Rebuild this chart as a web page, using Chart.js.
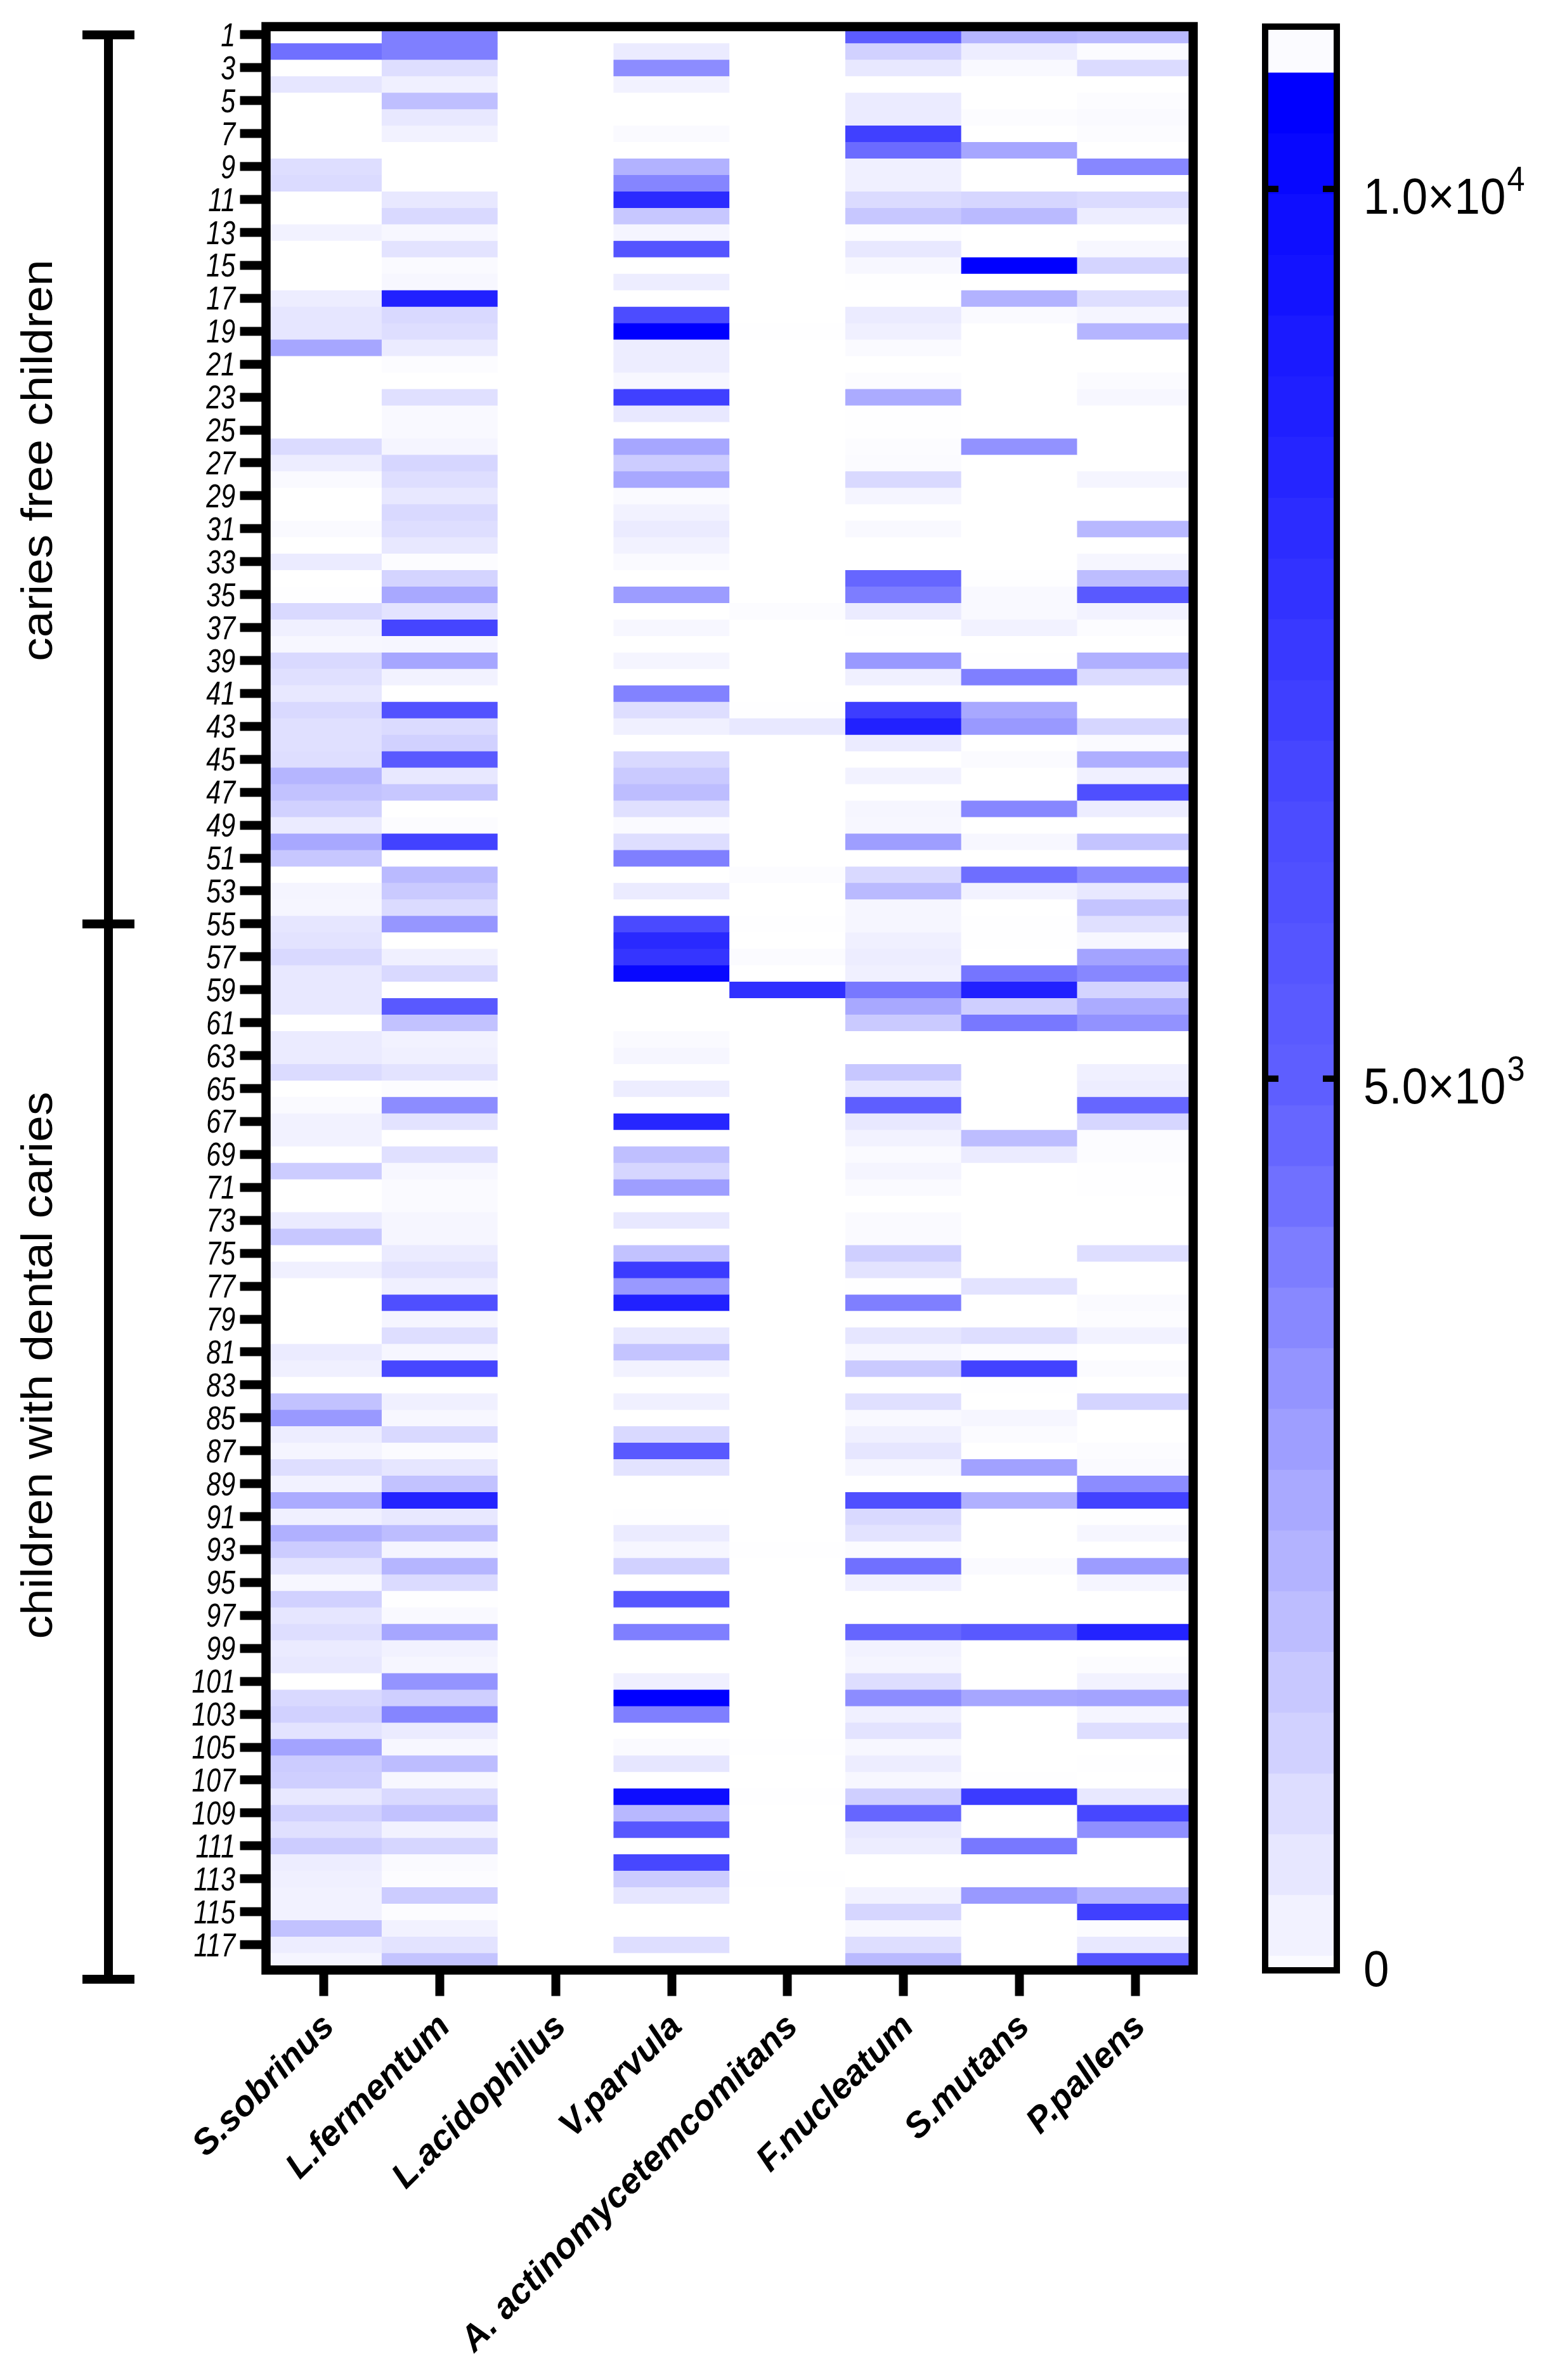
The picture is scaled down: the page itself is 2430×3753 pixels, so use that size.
<!DOCTYPE html>
<html>
<head>
<meta charset="utf-8">
<style>
  html, body { margin: 0; padding: 0; background: #fff; }
  canvas { position: absolute; left: 0; top: 0; }
</style>
<script src="https://cdn.jsdelivr.net/npm/chart.js@4/dist/chart.umd.min.js"></script>
</head>
<body>
<canvas id="heat" width="2430" height="3753"></canvas>
<canvas id="scale" width="2430" height="3753"></canvas>
<script>
const species = ['S.sobrinus', 'L.fermentum', 'L.acidophilus', 'V.parvula', 'A. actinomycetemcomitans', 'F.nucleatum', 'S.mutans', 'P.pallens'];

const rowTicks = [1, 3, 5, 7, 9, 11, 13, 15, 17, 19, 21, 23, 25, 27, 29, 31, 33, 35, 37, 39, 41, 43, 45, 47, 49, 51, 53, 55, 57, 59,
  61, 63, 65, 67, 69, 71, 73, 75, 77, 79, 81, 83, 85, 87, 89, 91, 93, 95, 97, 99, 101, 103, 105, 107, 109, 111, 113, 115, 117];

// one value per child, row 1 to 118
const sSobrinus = [0, 4440, 0, 790, 0, 0, 0, 0, 1030, 1110,
  0, 0, 400, 0, 0, 0, 550, 790, 790, 2770,
  0, 0, 0, 0, 0, 1110, 550, 160, 0, 0,
  160, 0, 630, 0, 40, 1190, 480, 240, 1190, 950,
  710, 1190, 950, 950, 1030, 2300, 1900, 1430, 630, 2690,
  1740, 0, 320, 280, 790, 870, 1190, 710, 710, 710,
  0, 630, 630, 1110, 0, 160, 400, 400, 0, 1580,
  0, 0, 630, 1740, 0, 480, 0, 0, 0, 0,
  630, 480, 0, 1900, 3170, 550, 320, 1030, 400, 2610,
  480, 2450, 1580, 870, 240, 1430, 790, 1030, 630, 710,
  0, 1190, 1430, 870, 2850, 1580, 1500, 710, 1430, 950,
  1580, 550, 480, 400, 400, 1900, 550, 320];
const lFermentum = [3960, 3960, 1030, 480, 1980, 710, 400, 0, 0, 0,
  710, 1190, 240, 870, 160, 240, 8670, 1190, 1030, 630,
  80, 0, 950, 200, 200, 320, 1270, 1030, 710, 1190,
  1030, 710, 80, 1350, 2690, 870, 6520, 280, 2770, 400,
  0, 5750, 1110, 1430, 5290, 710, 1740, 0, 80, 6670,
  0, 2140, 1660, 1110, 3250, 0, 480, 1190, 0, 5290,
  1900, 400, 480, 870, 80, 3560, 870, 0, 950, 240,
  160, 160, 280, 280, 630, 870, 480, 5910, 320, 1030,
  280, 6370, 0, 480, 240, 1190, 120, 790, 1900, 8520,
  710, 2060, 320, 2300, 1110, 40, 200, 2770, 400, 280,
  3330, 1500, 3800, 630, 240, 2060, 240, 1190, 1900, 400,
  1270, 160, 80, 1580, 80, 400, 870, 1820];
const lAcidophilus = [0, 0, 0, 0, 0, 0, 0, 0, 0, 0,
  0, 0, 0, 0, 0, 0, 0, 0, 0, 0,
  0, 0, 0, 0, 0, 0, 0, 0, 0, 0,
  0, 0, 0, 0, 0, 0, 0, 0, 0, 0,
  0, 0, 0, 0, 0, 0, 0, 0, 0, 0,
  0, 0, 0, 0, 0, 0, 0, 0, 0, 0,
  0, 0, 0, 0, 0, 0, 0, 0, 0, 0,
  0, 0, 0, 0, 0, 0, 0, 0, 0, 0,
  0, 0, 0, 0, 0, 0, 0, 0, 0, 0,
  0, 0, 0, 0, 0, 0, 0, 0, 0, 0,
  0, 0, 0, 0, 0, 0, 0, 0, 0, 0,
  0, 0, 0, 0, 0, 0, 0, 0];
const vParvula = [0, 630, 3560, 400, 0, 0, 160, 0, 2380, 3800,
  8050, 1740, 320, 5600, 0, 550, 0, 6060, 10650, 550,
  550, 240, 6830, 710, 0, 2770, 1580, 2690, 160, 400,
  630, 400, 160, 0, 3090, 0, 240, 0, 320, 0,
  3880, 1030, 480, 0, 1190, 1660, 2060, 950, 160, 1030,
  3960, 0, 630, 0, 6210, 8210, 7440, 10200, 0, 0,
  0, 160, 280, 0, 550, 0, 8360, 0, 1980, 1270,
  3010, 0, 710, 0, 1900, 7130, 3170, 8670, 0, 710,
  1820, 400, 0, 480, 0, 1190, 5290, 870, 0, 0,
  40, 630, 280, 1430, 0, 5440, 0, 3960, 0, 0,
  480, 10650, 3960, 0, 160, 790, 0, 9890, 2220, 5440,
  0, 6370, 1580, 790, 0, 0, 1030, 0];
const aActino = [0, 0, 0, 0, 0, 0, 0, 0, 0, 0,
  0, 0, 0, 0, 0, 0, 0, 0, 40, 0,
  0, 0, 0, 0, 0, 0, 0, 0, 0, 0,
  0, 0, 0, 0, 0, 80, 0, 0, 0, 0,
  0, 40, 710, 0, 0, 0, 0, 0, 0, 0,
  0, 80, 0, 0, 40, 0, 120, 0, 7750, 0,
  0, 0, 0, 0, 0, 0, 0, 0, 0, 0,
  0, 0, 0, 0, 0, 0, 0, 0, 0, 0,
  0, 0, 0, 0, 0, 0, 0, 0, 0, 0,
  0, 0, 40, 0, 0, 0, 0, 0, 0, 0,
  0, 0, 0, 0, 40, 0, 0, 40, 0, 0,
  0, 0, 40, 0, 0, 0, 0, 0];
const fNucleatum = [5140, 1430, 710, 0, 630, 630, 6830, 4590, 480, 480,
  1110, 1740, 80, 710, 240, 40, 0, 630, 480, 160,
  0, 80, 2610, 40, 40, 80, 120, 1190, 320, 0,
  200, 0, 0, 4750, 4040, 630, 40, 0, 3170, 480,
  0, 6980, 8670, 630, 0, 400, 0, 280, 240, 3010,
  0, 1190, 2140, 280, 280, 480, 550, 480, 4200, 2690,
  1660, 0, 0, 1740, 710, 4990, 710, 400, 160, 320,
  160, 0, 160, 160, 1500, 870, 40, 3960, 0, 790,
  240, 1660, 0, 950, 200, 480, 790, 320, 0, 5910,
  1190, 870, 120, 4440, 480, 0, 0, 4750, 400, 320,
  1030, 3560, 480, 870, 240, 550, 240, 1500, 4750, 710,
  550, 0, 0, 400, 1270, 240, 1030, 2140];
const sMutans = [2300, 550, 200, 0, 0, 80, 0, 2770, 0, 0,
  1270, 2140, 0, 0, 10650, 0, 2380, 160, 0, 0,
  0, 0, 0, 0, 0, 3400, 0, 0, 0, 0,
  0, 0, 0, 40, 200, 200, 400, 0, 40, 3960,
  0, 2690, 3170, 0, 120, 0, 0, 3720, 0, 240,
  0, 4510, 400, 0, 40, 40, 0, 4280, 8670, 1500,
  4200, 0, 0, 0, 0, 0, 0, 2060, 630, 0,
  0, 0, 0, 0, 0, 0, 870, 0, 0, 1030,
  80, 6670, 40, 0, 280, 120, 0, 2930, 0, 2450,
  0, 0, 0, 160, 0, 0, 0, 5290, 0, 0,
  0, 2770, 0, 0, 0, 0, 40, 7130, 0, 0,
  4200, 0, 0, 3170, 0, 0, 0, 0];
const pPallens = [2140, 120, 1110, 0, 80, 160, 80, 0, 3720, 0,
  1110, 550, 0, 240, 1350, 0, 1030, 320, 2300, 0,
  0, 120, 240, 0, 0, 0, 0, 320, 0, 0,
  2220, 0, 280, 2060, 5290, 400, 80, 0, 2450, 1110,
  0, 0, 1270, 160, 2530, 480, 5910, 550, 0, 1820,
  0, 3560, 710, 1820, 950, 240, 2850, 3720, 1350, 2610,
  3400, 0, 0, 480, 550, 4750, 1270, 80, 80, 40,
  40, 0, 0, 0, 1030, 0, 0, 160, 80, 400,
  0, 120, 0, 1350, 0, 0, 80, 160, 3560, 6670,
  40, 280, 0, 3090, 320, 0, 0, 8520, 0, 80,
  400, 2850, 320, 1030, 0, 40, 0, 710, 6370, 3480,
  0, 0, 0, 2300, 6830, 80, 710, 5600];

const columns = [sSobrinus, lFermentum, lAcidophilus, vParvula, aActino, fNucleatum, sMutans, pPallens];

// colour bar, top to bottom: band edges and the red/green level of each band
const scaleEdges = [10912, 10655, 10314, 9972, 9631, 9290, 8948, 8607, 8265, 7924, 7583, 7241, 6900, 6558, 6217, 5876, 5534,
  5193, 4851, 4510, 4169, 3827, 3486, 3145, 2803, 2462, 2120, 1779, 1438, 1096, 755, 413, 72, -11];
const scaleLevels = [251, 0, 7, 14, 19, 26, 31, 37, 44, 50, 57, 63, 70, 76, 80, 85, 90,
  94, 102, 112, 125, 136, 148, 158, 169, 179, 189, 200, 209, 221, 231, 242, 251];
const scaleTicks = [0, 5000, 10000];
const scaleLabels = ['0', '5.0×10', '1.0×10'];
const scaleExponents = ['', '3', '4'];

const groupLabels = ['caries free children', 'children with dental caries'];
const groupBreaks = [0.5, 54.5, 118.6];

// white at 0, middle stop at 5000, pure blue at the top of the range
function cellColor(v) {
  let c;
  if (v <= 5000) c = 255 - v * (255 - 94) / 5000;
  else c = Math.max(0, 94 - (v - 5000) * 94 / 5655);
  c = Math.round(c);
  return `rgb(${c},${c},255)`;
}

const SANS = '"Liberation Sans", Arial, sans-serif';

const framePlugin = {
  id: 'frame',
  afterDraw(chart) {
    const { ctx, chartArea: a, scales } = chart;
    ctx.save();
    ctx.strokeStyle = '#000';
    ctx.lineWidth = 14.5;
    ctx.strokeRect(a.left, a.top, a.right - a.left, a.bottom - a.top + 1);

    // row labels are squeezed sideways, the axis itself can't do that
    ctx.fillStyle = '#000';
    ctx.textAlign = 'right';
    ctx.textBaseline = 'alphabetic';
    ctx.font = 'italic 52px ' + SANS;
    scales.y.ticks.forEach((t, i) => {
      ctx.save();
      ctx.translate(371, scales.y.getPixelForTick(i) + 18);
      ctx.scale(0.79, 1);
      ctx.fillText(t.label, 0, 0);
      ctx.restore();
    });

    // group bracket on the left
    const ys = groupBreaks.map(v => scales.y.getPixelForValue(v));
    ctx.fillRect(164, ys[0], 14, ys[2] - ys[0]);
    ys.forEach(y => ctx.fillRect(130, y - 7, 82, 14));

    ctx.font = '75px ' + SANS;
    ctx.textAlign = 'center';
    const labelY = [726, 2153];
    groupLabels.forEach((t, i) => {
      ctx.save();
      ctx.translate(82, labelY[i]);
      ctx.rotate(-Math.PI / 2);
      ctx.scale(1, 0.92);
      ctx.fillText(t, 0, 0);
      ctx.restore();
    });
    ctx.restore();
  }
};

new Chart(document.getElementById('heat'), {
  type: 'bar',
  data: {
    labels: species,
    datasets: sSobrinus.map((_, r) => ({
      label: 'row ' + (r + 1),
      data: species.map(() => 1),
      backgroundColor: columns.map(col => cellColor(col[r])),
      borderWidth: 0,
      barPercentage: 1,
      categoryPercentage: 1,
      stack: 'rows'
    }))
  },
  plugins: [framePlugin],
  options: {
    responsive: false,
    animation: false,
    devicePixelRatio: 1,
    layout: { autoPadding: false, padding: { left: 0, top: 42, right: 548.5, bottom: 0 } },
    plugins: { legend: { display: false }, tooltip: { enabled: false } },
    scales: {
      x: {
        stacked: true,
        afterFit: s => { s.height = 3753 - 3105.5; },
        border: { display: false },
        grid: { offset: false, drawOnChartArea: false, tickLength: 42, tickWidth: 14, tickColor: '#000' },
        ticks: {
          autoSkip: false, minRotation: 45, maxRotation: 45, padding: 16, labelOffset: 8, color: '#000',
          font: { family: SANS, size: 56, style: 'italic', weight: 'bold' }
        }
      },
      y: {
        stacked: true,
        reverse: true,
        min: 0,
        max: 118,
        afterFit: s => { s.width = 419.5; },
        afterBuildTicks: s => { s.ticks = rowTicks.map(r => ({ value: r - 0.5 })); },
        border: { display: false },
        grid: { drawOnChartArea: false, tickLength: 41, tickWidth: 14, tickColor: '#000' },
        ticks: {
          autoSkip: false,
          color: 'rgba(0,0,0,0)',
          callback: v => String(v + 0.5),
          font: { family: SANS, size: 52, style: 'italic' }
        }
      }
    }
  }
});

const scaleFrame = {
  id: 'scaleFrame',
  afterDraw(chart) {
    const { ctx, chartArea: a, scales } = chart;
    ctx.save();
    ctx.strokeStyle = '#000';
    ctx.lineWidth = 10;
    ctx.strokeRect(a.left, a.top, a.right - a.left, a.bottom - a.top);
    ctx.fillStyle = '#000';
    ctx.textAlign = 'left';
    ctx.textBaseline = 'alphabetic';
    scaleTicks.forEach((v, i) => {
      const y = scales.y.getPixelForValue(v);
      if (v > 0) {
        ctx.fillRect(a.left, y - 5, 21, 10);
        ctx.fillRect(a.right - 22, y - 5, 22, 10);
      }
      const base = v > 0 ? y + 39 : y + 28;
      ctx.save();
      ctx.translate(2150, base);
      ctx.scale(0.97, 1.06);
      ctx.font = '75px ' + SANS;
      ctx.fillText(scaleLabels[i], 0, 0);
      if (scaleExponents[i]) {
        const w = ctx.measureText(scaleLabels[i]).width;
        ctx.font = '52px ' + SANS;
        ctx.fillText(scaleExponents[i], w + 2, -34);
      }
      ctx.restore();
    });
    ctx.restore();
  }
};

new Chart(document.getElementById('scale'), {
  type: 'bar',
  data: {
    labels: ['level'],
    datasets: scaleLevels.map((c, i) => ({
      data: [[scaleEdges[i + 1], scaleEdges[i]]],
      backgroundColor: `rgb(${c},${c},255)`,
      borderWidth: 0,
      grouped: false,
      barPercentage: 1,
      categoryPercentage: 1
    }))
  },
  plugins: [scaleFrame],
  options: {
    responsive: false,
    animation: false,
    devicePixelRatio: 1,
    layout: { autoPadding: false, padding: { left: 1995, top: 42, right: 2430 - 2108, bottom: 3753 - 3107 } },
    plugins: { legend: { display: false }, tooltip: { enabled: false } },
    scales: {
      x: { display: false },
      y: {
        display: false,
        min: -11,
        max: 10912
      }
    }
  }
});
</script>
</body>
</html>
